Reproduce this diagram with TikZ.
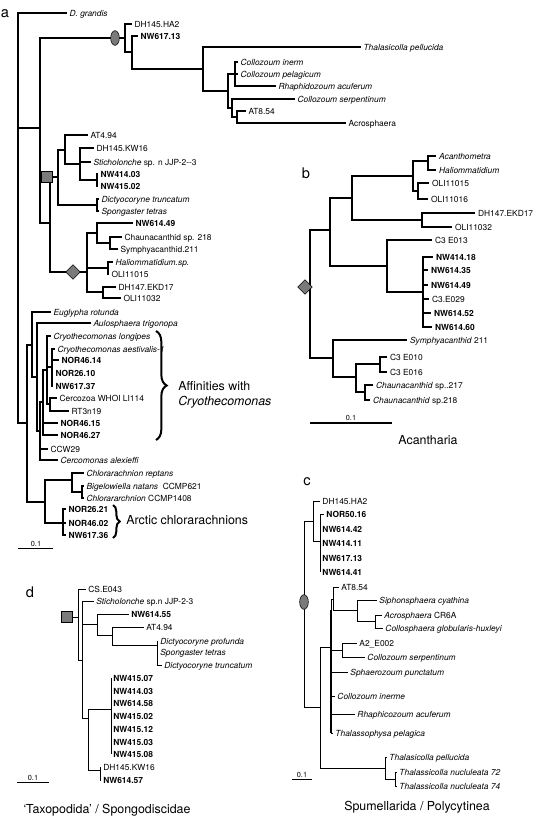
\documentclass[tikz,border=0pt]{standalone}
\usepackage{fontspec}
\setmainfont{TeX Gyre Heros}
\usetikzlibrary{shapes.geometric,decorations.pathreplacing}
\definecolor{mk}{HTML}{7A7A7A}
\begin{document}
\begin{tikzpicture}[x=0.75pt,y=-0.75pt,
  lf/.style={anchor=mid west,inner xsep=1.5pt,inner ysep=0pt,font=\fontsize{6.3}{7}\selectfont},
  lfi/.style={lf,font=\fontsize{6.3}{7}\selectfont\itshape},
  lfb/.style={lf,font=\fontsize{6.3}{7}\selectfont\bfseries},
  plab/.style={font=\fontsize{11}{12}\selectfont,inner sep=0pt},
  captxt/.style={font=\fontsize{9.3}{11}\selectfont,inner sep=0pt},
  sclab/.style={font=\fontsize{5.5}{6}\selectfont,inner sep=0.5pt,anchor=base},
  ellmark/.style={ellipse,draw=black,fill=mk,minimum width=6.5pt,minimum height=11pt,inner sep=0pt,line width=0.4pt},
  sqmark/.style={rectangle,draw=black,fill=mk,minimum size=8.5pt,inner sep=0pt,line width=0.4pt},
  dmmark/.style={diamond,draw=black,fill=mk,minimum size=11pt,inner sep=0pt,line width=0.4pt},
  bigbrace/.style={decorate,decoration={brace,amplitude=#1},line width=1.5pt},
  thickbr/.style={line width=1.5pt},
  line join=miter
]
\useasboundingbox (0,0) rectangle (544,818);

%%%%%%%%%%%%%%%%%%%% panel a
\node[plab] (la) at (5,14) {a};
\begin{scope}[line width=0.8pt]
\coordinate (ar) at (18,216);
\coordinate (aN1) at (40,128);
\coordinate (aR2) at (27,423);
\coordinate (aA) at (125,38);
\coordinate (aB) at (132,52);
\coordinate (aC) at (203,69);
\coordinate (aThk) at (313,47);
\coordinate (aD) at (228,91);
\coordinate (aE) at (235,74);
\coordinate (aF) at (232,108);
\coordinate (aG) at (237,117);
\coordinate (aN2) at (50,223);
\coordinate (aX) at (58,177);
\coordinate (aX1) at (65,150);
\coordinate (aX2) at (80,164);
\coordinate (aX3) at (97,180);
\coordinate (aDi) at (97,205);
\coordinate (aDm) at (87,272);
\coordinate (aY1) at (97,233);
\coordinate (aY2) at (110,243);
\coordinate (aY3) at (108,268);
\coordinate (aY4) at (103,292);
\coordinate (aC1) at (32,345);
\coordinate (aC2) at (37,377);
\coordinate (aC3) at (40,431);
\coordinate (aC4) at (43,402);
\coordinate (aC5) at (47,370);
\coordinate (aC6) at (52,367);
\coordinate (aC7) at (50,404);
\coordinate (aCh) at (45,502);
\coordinate (aChA) at (72,480);
\coordinate (aChA2) at (82,492);
\coordinate (aChB) at (63,523);

\node[lfi] (l0) at (67,13) {D. grandis};
\node[lf] (l1) at (132,24) {DH145.HA2};
\node[lfb] (l2) at (138,36) {NW617.13};
\node[lfi] (l3) at (361,47) {Thalasicolla pellucida};
\node[lfi] (l4) at (238,62) {Collozoum inerm};
\node[lfi] (l5) at (238,74) {Collozoum pelagicum};
\node[lfi] (l6) at (276,86) {Rhaphidozoum acuferum};
\node[lfi] (l7) at (295,99) {Collozoum serpentinum};
\node[lf] (l8) at (246,111) {AT8.54};
\node[lf] (l9) at (346,123) {Acrosphaera};
\node[lf] (l10) at (88,135) {AT4.94};
\node[lf] (l11) at (94,148) {DH145.KW16};
\node[lf] (l12) at (91,162) {\textit{Sticholonche} sp. n JJP-2-{}-3};
\node[lfb] (l13) at (98,174) {NW414.03};
\node[lfb] (l14) at (98,186) {NW415.02};
\node[lfi] (l15) at (99,199) {Dictyocoryne truncatum};
\node[lfi] (l16) at (99,211) {Spongaster tetras};
\node[lfb] (l17) at (133,223) {NW614.49};
\node[lf] (l18) at (122,237) {Chaunacanthid sp. 218};
\node[lf] (l19) at (118,249) {Symphyacanthid.211};
\node[lfi] (l20) at (113,262) {Haliommatidium.sp.};
\node[lf] (l21) at (109,274) {OLI11015};
\node[lf] (l22) at (116,287) {DH147.EKD17};
\node[lf] (l23) at (121,298) {OLI11032};
\node[lfi] (l24) at (51,312) {Euglypha rotunda};
\node[lfi] (l25) at (91,323) {Aulosphaera trigonopa};
\node[lfi] (l30) at (51,336) {Cryothecomonas longipes};
\node[lfi] (l31) at (55,349) {Cryothecomonas aestivalis-1};
\node[lfb] (l32) at (59,360) {NOR46.14};
\node[lfb] (l33) at (53,373) {NOR26.10};
\node[lfb] (l34) at (53,386) {NW617.37};
\node[lf] (l35) at (57,398) {Cercozoa WHOI LI114};
\node[lf] (l36) at (69,411) {RT3n19};
\node[lfb] (l28) at (58,423) {NOR46.15};
\node[lfb] (l29) at (58,435) {NOR46.27};
\node[lf] (l26) at (48,449) {CCW29};
\node[lfi] (l27) at (58,460) {Cercomonas alexieffi};
\node[lfi] (l37) at (84,473) {Chlorarachnion reptans};
\node[lf] (l38) at (84,486) {\textit{Bigelowiella natans}\ \ CCMP621};
\node[lf] (l39) at (84,498) {\textit{Chlorararchnion} CCMP1408};
\node[lfb] (l40) at (66,509) {NOR26.21};
\node[lfb] (l41) at (66,523) {NOR46.02};
\node[lfb] (l42) at (66,535) {NW617.36};

\foreach \p/\c in {ar/aN1,ar/aR2,aN1/aA,aA/aB,aB/aC,aC/aD,aD/aE,aD/aF,aF/aG,
  aN1/aN2,aN2/aX,aX/aX1,aX1/aX2,aX2/aX3,aX/aDi,aN2/aDm,aDm/aY1,aY1/aY2,aDm/aY3,aDm/aY4,
  aR2/aC1,aC1/aC2,aC2/aC3,aC3/aC4,aC4/aC5,aC5/aC6,aC5/aC7,aR2/aCh,aCh/aChA,aChA/aChA2,aCh/aChB}
  \draw (\p) |- (\c);
\foreach \p/\c in {ar/l0,aA/l1,aB/l2,aC/l3,aE/l4,aE/l5,aE/l6,aF/l7,aG/l8,aG/l9,
  aX1/l10,aX2/l11,aX2/l12,aX3/l13,aX3/l14,aDi/l15,aDi/l16,aY1/l17,aY2/l18,aY2/l19,
  aY3/l20,aY3/l21,aY4/l22,aY4/l23,aC1/l24,aC2/l25,aC5/l30,aC6/l31,aC6/l32,aC6/l33,aC6/l34,
  aC7/l35,aC7/l36,aC4/l28,aC4/l29,aC3/l26,aC3/l27,aChA/l37,aChA2/l38,aChA2/l39,
  aChB/l40,aChB/l41,aChB/l42}
  \draw (\p) |- (\c.mid west);
\draw[thickbr] (aC) |- (aThk);
\draw[thickbr] (aC6 |- l31.mid west) -- (aC6 |- l34.mid west);
\end{scope}
\node[ellmark] (aell) at (115,38) {};
\node[sqmark] (asq) at (47,177) {};
\node[dmmark] (adm) at (73,272) {};

\coordinate (bra1) at (156,331);
\coordinate (bra2) at (156,440);
\draw[bigbrace=8pt] (bra1) -- (bra2);
\node[captxt,anchor=mid west] (aff1) at (178,387) {Affinities with};
\node[captxt,anchor=mid west,font=\fontsize{9.3}{11}\selectfont\itshape] (aff2) at (178,402) {Cryothecomonas};
\coordinate (brb1) at (113,505);
\coordinate (brb2) at (113,538);
\draw[bigbrace=5pt] (brb1) -- (brb2);
\node[captxt,anchor=mid west] (arc) at (126,521) {Arctic chlorarachnions};

\coordinate (as1) at (18,548);
\coordinate (as2) at (53,548);
\draw[line width=0.6pt] (as1) -- (as2);
\node[sclab] (ast) at (36,546.5) {0.1};

%%%%%%%%%%%%%%%%%%%% panel b
\node[plab] (lb) at (306,173) {b};
\begin{scope}[line width=1.6pt]
\coordinate (bR) at (310,292);
\coordinate (bB1) at (330,230);
\coordinate (bB2) at (352,198);
\coordinate (bB3) at (413,176);
\coordinate (bB3a) at (428,161);
\coordinate (bB3b) at (418,191);
\coordinate (bB4) at (422,220);
\coordinate (bB5) at (387,266);
\coordinate (bB5b) at (423,292);
\coordinate (bB6) at (333,358);
\coordinate (bB7) at (356,377);
\coordinate (bB8) at (380,364);
\coordinate (bB9) at (365,392);

\node[lfi] (b1) at (436,156) {Acanthometra};
\node[lfi] (b2) at (436,170) {Haliommatidium};
\node[lf] (b3) at (429,183) {OLI11015};
\node[lf] (b4) at (428,199) {OLI11016};
\node[lf] (b5) at (475,213) {DH147.EKD17};
\node[lf] (b6) at (452,227) {OLI11032};
\node[lf] (b7) at (432,240) {C3 E013};
\node[lfb] (b8) at (433,257) {NW414.18};
\node[lfb] (b9) at (428,270) {NW614.35};
\node[lfb] (b10) at (428,285) {NW614.49};
\node[lf] (b11) at (429,299) {C3.E029};
\node[lfb] (b12) at (431,313) {NW614.52};
\node[lfb] (b13) at (432,327) {NW614.60};
\node[lf] (b14) at (407,340) {\textit{Symphyacanthid} 211};
\node[lf] (b15) at (387,357) {C3 E010};
\node[lf] (b16) at (387,372) {C3 E016};
\node[lf] (b17) at (373,385) {\textit{Chaunacanthid} sp..217};
\node[lf] (b18) at (370,400) {\textit{Chaunacanthid} sp.218};

\foreach \p/\c in {bR/bB1,bR/bB6,bB1/bB2,bB1/bB5,bB2/bB3,bB2/bB4,bB3/bB3a,bB3/bB3b,
  bB5/bB5b,bB6/bB7,bB7/bB8,bB7/bB9}
  \draw (\p) |- (\c);
\foreach \p/\c in {bB3a/b1,bB3a/b2,bB3b/b3,bB3b/b4,bB4/b5,bB4/b6,bB5/b7,bB5b/b8,bB5b/b9,
  bB5b/b10,bB5b/b11,bB5b/b12,bB5b/b13,bB6/b14,bB8/b15,bB8/b16,bB9/b17,bB9/b18}
  \draw (\p) |- (\c.mid west);
\end{scope}
\node[dmmark] (bdm) at (305,287) {};
\coordinate (bs1) at (310,423);
\coordinate (bs2) at (392,423);
\draw[line width=1.2pt] (bs1) -- (bs2);
\node[sclab] (bst) at (351,420) {0.1};
\node[captxt] (bcap) at (428,440) {Acantharia};

%%%%%%%%%%%%%%%%%%%% panel c
\node[plab] (lc) at (307,482) {c};
\begin{scope}[line width=0.7pt]
\coordinate (cR) at (304,611);
\coordinate (cA) at (313,521);
\coordinate (cA2) at (320,541);
\coordinate (cB) at (320,707);
\coordinate (cP) at (331,647);
\coordinate (cQ) at (333,599);
\coordinate (cSi) at (357,610);
\coordinate (cAc) at (375,621);
\coordinate (cA2E) at (342,650);
\coordinate (cT) at (385,768);
\coordinate (cT2) at (395,779);

\node[lf] (c1) at (320,501) {DH145.HA2};
\node[lfb] (c2) at (324,514) {NOR50.16};
\node[lfb] (c3) at (320,529) {NW614.42};
\node[lfb] (c4) at (320,543) {NW414.11};
\node[lfb] (c5) at (320,558) {NW617.13};
\node[lfb] (c6) at (320,572) {NW614.41};
\node[lf] (c7) at (339,587) {AT8.54};
\node[lfi] (c8) at (377,600) {Siphonsphaera cyathina};
\node[lf] (c9) at (382,615) {\textit{Acrosphaera} CR6A};
\node[lfi] (c10) at (383,628) {Collosphaera globularis-huxleyi};
\node[lf] (c11) at (357,643) {A2\_E002};
\node[lfi] (c12) at (365,657) {Collozoum serpentinum};
\node[lfi] (c13) at (348,672) {Sphaerozoum punctatum};
\node[lfi] (c14) at (335,696) {Collozoum inerme};
\node[lfi] (c15) at (355,714) {Rhaphicozoum acuferum};
\node[lfi] (c16) at (333,733) {Thalassophysa pelagica};
\node[lfi] (c17) at (387,757) {Thalasicolla pellucida};
\node[lfi] (c18) at (397,772) {Thalassicolla nucluleata 72};
\node[lfi] (c19) at (397,786) {Thalassicolla nucluleata 74};

\foreach \p/\c in {cR/cA,cR/cB,cA/cA2,cB/cP,cB/cT,cP/cQ,cQ/cSi,cSi/cAc,cP/cA2E,cT/cT2}
  \draw (\p) |- (\c);
\foreach \p/\c in {cA/c1,cA2/c2,cA2/c3,cA2/c4,cA2/c5,cA2/c6,cQ/c7,cSi/c8,cAc/c9,cAc/c10,
  cA2E/c11,cA2E/c12,cP/c13,cP/c14,cP/c15,cP/c16,cT/c17,cT2/c18,cT2/c19}
  \draw (\p) |- (\c.mid west);
\draw[line width=1.3pt] (cP |- cSi) -- (cP |- c16.mid west);
\end{scope}
\node[ellmark] (cell) at (304,602) {};
\coordinate (cs1) at (292,779);
\coordinate (cs2) at (312,779);
\draw[line width=0.6pt] (cs1) -- (cs2);
\node[sclab] (cst) at (302,777) {0.1};
\node[captxt] (ccap) at (417,807) {Spumellarida / Polycytinea};

%%%%%%%%%%%%%%%%%%%% panel d
\node[plab] (ld) at (30,592) {d};
\begin{scope}[line width=0.5pt]
\coordinate (dR) at (78,617);
\coordinate (dD2) at (82,660);
\coordinate (dD3) at (97,624);
\coordinate (dD3b) at (112,635);
\coordinate (dDc) at (157,645);
\coordinate (dD4) at (88,718);
\coordinate (dD5) at (111,709);
\coordinate (dD6) at (100,770);

\node[lf] (d1) at (86,589) {CS.E043};
\node[lf] (d2) at (94,601) {\textit{Sticholonche} sp.n JJP-2-3};
\node[lfb] (d3) at (129,614) {NW614.55};
\node[lf] (d4) at (144,627) {AT4.94};
\node[lfi] (d5) at (158,641) {Dictyocoryne profunda};
\node[lfi] (d6) at (158,652) {Spongaster tetras};
\node[lfi] (d7) at (162,665) {Dictyocoryne truncatum};
\node[lfb] (d8) at (111,678) {NW415.07};
\node[lfb] (d9) at (111,691) {NW414.03};
\node[lfb] (d10) at (111,703) {NW614.58};
\node[lfb] (d11) at (111,716) {NW415.02};
\node[lfb] (d12) at (111,729) {NW415.12};
\node[lfb] (d13) at (111,742) {NW415.03};
\node[lfb] (d14) at (111,754) {NW415.08};
\node[lf] (d15) at (101,767) {DH145.KW16};
\node[lfb] (d16) at (101,780) {NW614.57};

\foreach \p/\c in {dR/dD2,dD2/dD3,dD3/dD3b,dD3b/dDc,dD2/dD4,dD4/dD5,dD4/dD6}
  \draw (\p) |- (\c);
\foreach \p/\c in {dR/d1,dD2/d2,dD3/d3,dD3b/d4,dDc/d5,dDc/d6,dDc/d7,dD5/d8,dD5/d9,dD5/d10,
  dD5/d11,dD5/d12,dD5/d13,dD5/d14,dD6/d15,dD6/d16}
  \draw (\p) |- (\c.mid west);
\end{scope}
\node[sqmark] (dsq) at (67,617) {};
\draw[line width=0.5pt] (dsq.east) -- (dR);
\coordinate (ds1) at (17,782);
\coordinate (ds2) at (49,782);
\draw[line width=0.6pt] (ds1) -- (ds2);
\node[sclab] (dst) at (33,780) {0.1};
\node[captxt] (dcap) at (107,810) {‘Taxopodida’ / Spongodiscidae};
\end{tikzpicture}
\end{document}
